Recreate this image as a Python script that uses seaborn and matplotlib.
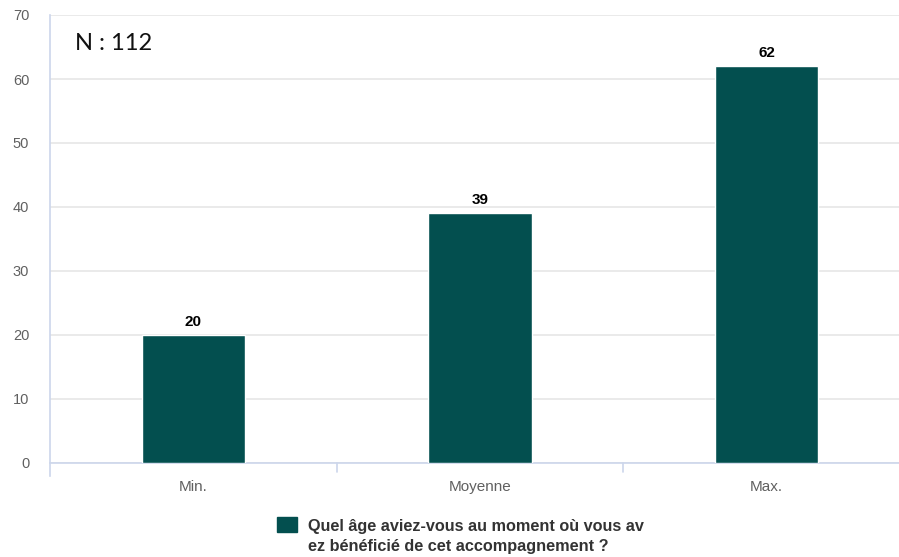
import matplotlib
matplotlib.use("Agg")
import matplotlib.pyplot as plt
import seaborn as sns
import pandas as pd
from matplotlib.patches import Rectangle

# données
categories = ["Min.", "Moyenne", "Max."]
valeurs = [20, 39, 62]
serie_l1 = "Quel âge aviez-vous au moment où vous av"
serie_l2 = "ez bénéficié de cet accompagnement ?"
y_ticks = [0, 10, 20, 30, 40, 50, 60, 70]

df = pd.DataFrame({"categorie": categories, "valeur": valeurs})

sns.set_style("white")
plt.rcParams["font.family"] = ["Liberation Sans", "DejaVu Sans"]

fig = plt.figure(figsize=(8.99, 5.57), dpi=100)
W, H = 899, 557
# axe : gauche 50 px, droite 910 px (depasse la figure), y 0 -> 463 px, 70 -> 15 px
ax = fig.add_axes([50 / W, (H - 463) / H, 860 / W, 448 / H])

couleur = "#034f4f"
sns.barplot(data=df, x="categorie", y="valeur", color=couleur, width=0.36,
            saturation=1, ax=ax, zorder=3)

ax.set_ylim(0, 70)
ax.set_xlim(-0.5, 2.5)
ax.set_yticks(y_ticks)
ax.set_yticklabels([str(t) for t in y_ticks])
ax.grid(axis="y", color="#e6e6e6", linewidth=1.2, zorder=0)
ax.set_xlabel("")
ax.set_ylabel("")

for s in ["top", "right"]:
    ax.spines[s].set_visible(False)
ax.spines["left"].set_color("#ccd6eb")
ax.spines["bottom"].set_color("#ccd6eb")
ax.spines["left"].set_linewidth(1.2)
ax.spines["bottom"].set_linewidth(1.2)
ax.spines["left"].set_bounds(-2, 70)

ax.tick_params(axis="y", length=0, labelsize=10.5, labelcolor="#606060", pad=15)
ax.tick_params(axis="x", length=0, labelsize=11, labelcolor="#606060", pad=12)

# separateurs de categories sous l'axe
for xb in [0.5, 1.5]:
    ax.plot([xb, xb], [0, -1.4], color="#ccd6eb", linewidth=1.2, clip_on=False)

# etiquettes de valeurs
for i, v in enumerate(valeurs):
    ax.text(i, v + 1.4, str(v), ha="center", va="baseline", fontsize=11,
            fontweight="bold", color="#000000")

fig.text(75 / W, 1 - 43 / H, "N : 112", ha="left", va="center", fontsize=17,
         family=["Lato", "DejaVu Sans"], color="#111111")

# legende
fig.patches.append(Rectangle((277 / W, 1 - 532 / H), 20 / W, 15 / H,
                             transform=fig.transFigure, color=couleur))
fig.text(308 / W, 1 - 531.5 / H, serie_l1, ha="left", va="baseline",
         fontsize=11.7, fontweight="bold", color="#333333")
fig.text(308 / W, 1 - 551 / H, serie_l2, ha="left", va="baseline",
         fontsize=11.7, fontweight="bold", color="#333333")

fig.savefig("out.png", dpi=100)
